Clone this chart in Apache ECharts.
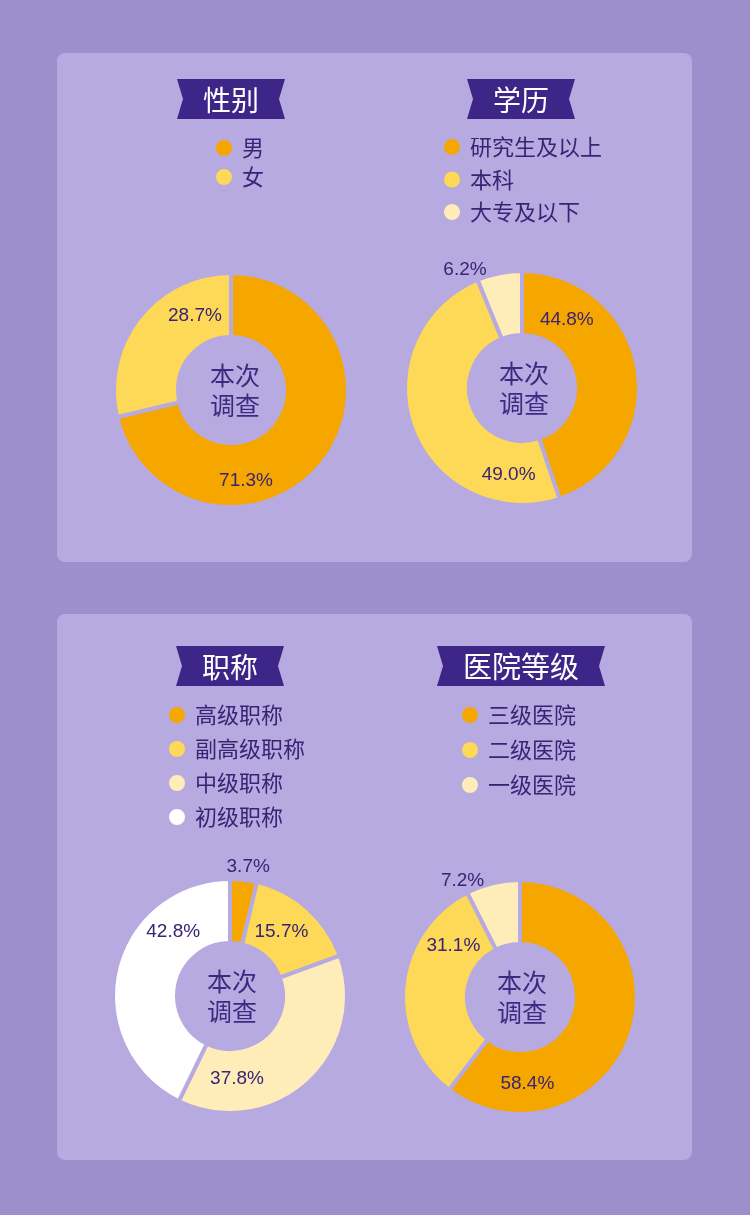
<!DOCTYPE html>
<html>
<head>
<meta charset="utf-8">
<script src="https://cdn.jsdelivr.net/npm/echarts@6/dist/echarts.min.js"></script>
<style>
  html, body { margin: 0; padding: 0; background: #9b8fcc; }
  #main { width: 750px; height: 1215px; }
</style>
</head>
<body>
<div id="main"></div>
<script>
// data
let genderNames = ['男', '女'];
let genderValues = [71.3, 28.7];

let eduNames = ['研究生及以上', '本科', '大专及以下'];
let eduValues = [44.8, 49.0, 6.2];

let titleNames = ['高级职称', '副高级职称', '中级职称', '初级职称'];
let titleValues = [3.7, 15.7, 37.8, 42.8];

let hospNames = ['三级医院', '二级医院', '一级医院'];
let hospValues = [58.4, 31.1, 7.2];

let headings = ['性别', '学历', '职称', '医院等级'];
let centerText = '本次\n调查';

// colours
let sliceColors = ['#f5a700', '#fdd957', '#feedb9', '#ffffff'];
let panelColor = '#b7aae1';
let darkPurple = '#3a2374';

// label nudges (from default inside position)
let labelShift = [
  [[-54, 36], [33, -20]],
  [[-42, -54], [69, 56], [-40, -32]],
  [[8, -42], [-7, 2], [-52, 17], [29, -44]],
  [[-76, 59], [21, -43], [-37, -31]]
];

let blocks = [
  { names: genderNames, values: genderValues, center: [231, 390], legend: [214, 137], gap: 7, banner: [177, 79, 108] },
  { names: eduNames, values: eduValues, center: [522, 388], legend: [442, 136], gap: 10.5, banner: [467, 79, 108] },
  { names: titleNames, values: titleValues, center: [230, 996], legend: [167, 704], gap: 12, banner: [176, 646, 108] },
  { names: hospNames, values: hospValues, center: [520, 997], legend: [460, 704], gap: 13, banner: [437, 646, 168] }
];

let myChart = echarts.init(document.getElementById('main'));

let graphics = [
  { type: 'rect', shape: { x: 57, y: 53, width: 635, height: 509, r: 8 }, style: { fill: panelColor }, z: -10 },
  { type: 'rect', shape: { x: 57, y: 614, width: 635, height: 546, r: 8 }, style: { fill: panelColor }, z: -10 }
];

let series = [];
let legends = [];

blocks.forEach(function (b, i) {
  // ribbon heading
  let x0 = b.banner[0], y0 = b.banner[1], w = b.banner[2], h = 40, n = 6;
  graphics.push({
    type: 'polygon',
    shape: { points: [[x0, y0], [x0 + w, y0], [x0 + w - n, y0 + h / 2], [x0 + w, y0 + h], [x0, y0 + h], [x0 + n, y0 + h / 2]] },
    style: { fill: '#3d2688' },
    z: -5
  });
  graphics.push({
    type: 'text',
    x: x0 + w / 2, y: y0 + h / 2 + 1,
    style: {
      text: headings[i], fill: '#ffffff', fontSize: i == 3 ? 29 : 28,
      fontFamily: 'Noto Sans CJK SC', align: 'center', verticalAlign: 'middle'
    },
    z: -4
  });
  // text in the hole
  graphics.push({
    type: 'text',
    x: b.center[0] + (i == 0 ? 4 : 2), y: b.center[1],
    style: {
      text: centerText, fill: '#3b2a80', fontSize: 25, lineHeight: 30,
      fontFamily: 'Noto Sans CJK SC', align: 'center', verticalAlign: 'middle'
    },
    z: 10
  });

  legends.push({
    orient: 'vertical',
    left: b.legend[0],
    top: b.legend[1],
    padding: 0,
    seriesIndex: i,
    data: b.names,
    icon: 'circle',
    itemWidth: 18,
    itemHeight: 18,
    itemGap: b.gap,
    selectedMode: false,
    textStyle: {
      color: darkPurple,
      fontSize: 22,
      lineHeight: 22,
      fontFamily: 'Noto Sans CJK SC',
      padding: [0, 0, 0, 4]
    }
  });

  series.push({
    type: 'pie',
    name: headings[i],
    center: b.center,
    radius: [53, 117],
    startAngle: 90,
    clockwise: true,
    avoidLabelOverlap: false,
    silent: true,
    itemStyle: { borderColor: panelColor, borderWidth: 4 },
    label: {
      show: true,
      position: 'inside',
      color: darkPurple,
      fontSize: 19,
      fontFamily: 'Liberation Sans',
      formatter: function (p) { return p.value.toFixed(1) + '%'; }
    },
    labelLine: { show: false },
    labelLayout: function (p) {
      let s = labelShift[i][p.dataIndex];
      return { dx: s[0], dy: s[1] };
    },
    data: b.names.map(function (nm, k) {
      return { name: nm, value: b.values[k], itemStyle: { color: sliceColors[k] } };
    })
  });
});

let option = {
  backgroundColor: '#9b8fcc',
  animation: false,
  legend: legends,
  graphic: graphics,
  series: series
};

myChart.setOption(option);
</script>
</body>
</html>
